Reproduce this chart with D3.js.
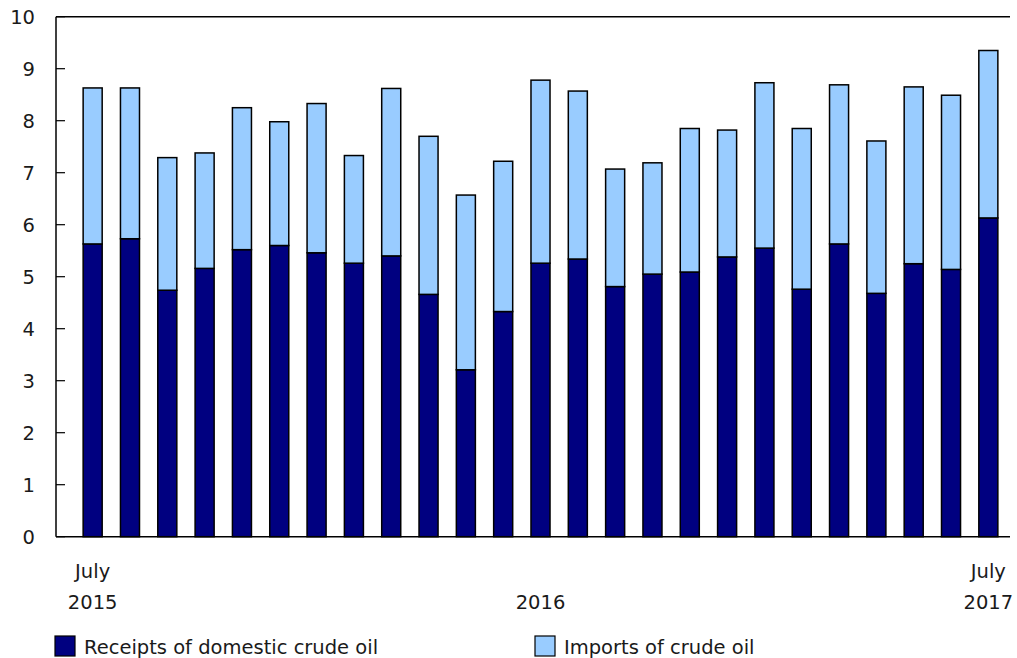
<!DOCTYPE html>
<html><head><meta charset="utf-8">
<script src="https://cdn.jsdelivr.net/npm/d3@7"></script>
<style>body{margin:0;background:#fff}svg{display:block}text{font-family:"DejaVu Sans",Verdana,sans-serif;fill:#1a1a1a}</style>
</head><body><svg id="c" width="1017" height="658"></svg>
<script>
const months = ["2015-07","2015-08","2015-09","2015-10","2015-11","2015-12","2016-01","2016-02","2016-03","2016-04","2016-05","2016-06","2016-07","2016-08","2016-09","2016-10","2016-11","2016-12","2017-01","2017-02","2017-03","2017-04","2017-05","2017-06","2017-07"];
const domestic = [5.63,5.73,4.74,5.16,5.52,5.60,5.46,5.26,5.40,4.66,3.21,4.33,5.26,5.34,4.81,5.05,5.09,5.38,5.55,4.76,5.63,4.68,5.25,5.14,6.13];
const imports = [3.00,2.90,2.55,2.22,2.73,2.38,2.87,2.07,3.22,3.04,3.36,2.89,3.52,3.23,2.26,2.14,2.76,2.44,3.18,3.09,3.06,2.93,3.40,3.35,3.22];
const xLabels = {"2015-07":["July","2015"],"2016-07":["","2016"],"2017-07":["July","2017"]};
const yTicks = [0,1,2,3,4,5,6,7,8,9,10];
const seriesNames = ["Receipts of domestic crude oil","Imports of crude oil"];
const colors = ["#000080","#99CCFF"];

const svg = d3.select("#c");
const FS = 19.5;
const pL = 56, pR = 1010, pT = 16.7, pB = 536.7;
const y = d3.scaleLinear().domain([0,10]).range([pB, pT]);
const x = d3.scaleBand().domain(months).range([74, 1007]).paddingInner(0.49).paddingOuter(0.245);

const data = months.map((m,i)=>({m, d:domestic[i], im:imports[i]}));
const stack = d3.stack().keys(["d","im"])(data);

// frame
svg.append("line").attr("x1",pL).attr("x2",pR).attr("y1",pT).attr("y2",pT).attr("stroke","#000").attr("stroke-width",1.5);
svg.append("line").attr("x1",pL).attr("x2",pL).attr("y1",pT).attr("y2",pB).attr("stroke","#000").attr("stroke-width",1.5);

// y axis ticks
const yg = svg.append("g");
yTicks.forEach(t=>{
  yg.append("line").attr("x1",pL).attr("x2",pL+9).attr("y1",y(t)).attr("y2",y(t)).attr("stroke","#000").attr("stroke-width",1.2);
  yg.append("text").attr("x",35).attr("y",y(t)).attr("dy","0.38em").attr("text-anchor","end").attr("font-size",FS).text(t);
});

// bars
stack.forEach((s,k)=>{
  svg.append("g").selectAll("rect").data(s).join("rect")
    .attr("x",d=>x(d.data.m)).attr("width",x.bandwidth())
    .attr("y",d=>y(d[1])).attr("height",d=>y(d[0])-y(d[1]))
    .attr("fill",colors[k]).attr("stroke","#000").attr("stroke-width",1.5);
});

// x axis line
svg.append("line").attr("x1",pL).attr("x2",pR).attr("y1",pB).attr("y2",pB).attr("stroke","#000").attr("stroke-width",1.5);

// x labels
Object.entries(xLabels).forEach(([m,[a,b]])=>{
  const cx = x(m)+x.bandwidth()/2;
  if(a) svg.append("text").attr("x",cx).attr("y",578).attr("text-anchor","middle").attr("font-size",FS).text(a);
  svg.append("text").attr("x",cx).attr("y",609).attr("text-anchor","middle").attr("font-size",FS).text(b);
});

// legend
const lx = [55,535];
seriesNames.forEach((n,i)=>{
  svg.append("rect").attr("x",lx[i]).attr("y",636).attr("width",20).attr("height",20).attr("fill",colors[i]).attr("stroke","#000").attr("stroke-width",1.2);
  svg.append("text").attr("x",lx[i]+29).attr("y",654).attr("font-size",FS).text(n);
});
</script></body></html>
